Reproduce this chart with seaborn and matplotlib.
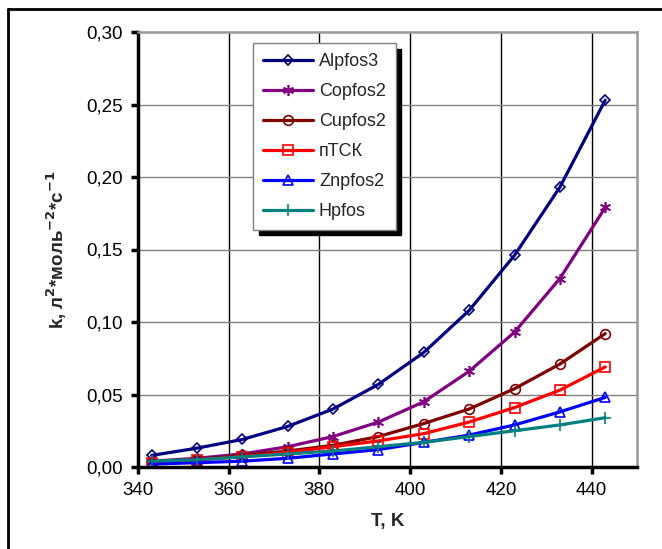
import pandas as pd
import matplotlib
matplotlib.use("Agg")
import matplotlib.pyplot as plt
from matplotlib.lines import Line2D
from matplotlib.ticker import FuncFormatter
import seaborn as sns

sns.set_style("white")
plt.rcParams['font.family'] = ['Liberation Sans', 'DejaVu Sans']

# temperatures, K
temps = [343, 353, 363, 373, 383, 393, 403, 413, 423, 433, 443]

alpfos3 = [0.008, 0.013, 0.019, 0.028, 0.040, 0.057, 0.079, 0.108, 0.146, 0.193, 0.253]
copfos2 = [0.004, 0.006, 0.009, 0.014, 0.021, 0.031, 0.045, 0.066, 0.093, 0.130, 0.179]
cupfos2 = [0.003, 0.005, 0.008, 0.011, 0.015, 0.021, 0.030, 0.040, 0.054, 0.071, 0.092]
ptsk = [0.003, 0.005, 0.007, 0.010, 0.014, 0.018, 0.023, 0.031, 0.041, 0.053, 0.069]
znpfos2 = [0.002, 0.003, 0.004, 0.006, 0.009, 0.012, 0.017, 0.022, 0.029, 0.038, 0.048]
hpfos = [0.004, 0.005, 0.007, 0.009, 0.011, 0.014, 0.017, 0.021, 0.025, 0.029, 0.034]

names = ['Alpfos3', 'Copfos2', 'Cupfos2', 'пТСК', 'Znpfos2', 'Hpfos']
series = [alpfos3, copfos2, cupfos2, ptsk, znpfos2, hpfos]
colors = ['#000080', '#800080', '#800000', '#FF0000', '#0000FF', '#008080']
markers = ['D', (6, 2, 0), 'o', 's', '^', '+']
msizes = [5, 8, 7, 7, 7, 8]

fig = plt.figure(figsize=(6.62, 5.49), dpi=100)
ax = fig.add_axes([138 / 662, 1 - 467 / 549, (637 - 138) / 662, (467 - 32) / 549])

for name, vals, c, m, ms in zip(names, series, colors, markers, msizes):
    sns.lineplot(x=temps, y=vals, ax=ax, color=c, marker=m, markersize=ms,
                 markerfacecolor='none', markeredgecolor=c, markeredgewidth=1.2,
                 linewidth=2.3, label=name)

ax.set_xlim(340, 450)
ax.set_ylim(0, 0.30)
ax.set_xticks([340, 360, 380, 400, 420, 440])
ax.set_yticks([0, 0.05, 0.10, 0.15, 0.20, 0.25, 0.30])
ax.yaxis.set_major_formatter(FuncFormatter(lambda v, p: f"{v:.2f}".replace('.', ',')))

ax.grid(False)
for xv in [360, 380, 400, 420, 440]:
    ax.axvline(xv, color='black', linewidth=1, zorder=0)
for yv in [0.05, 0.10, 0.15, 0.20, 0.25]:
    ax.axhline(yv, color='#808080', linewidth=1, zorder=0)

for s in ['left', 'bottom']:
    ax.spines[s].set_color('black')
    ax.spines[s].set_linewidth(2.5)
for s in ['top', 'right']:
    ax.spines[s].set_color('#999999')
    ax.spines[s].set_linewidth(1.8)

ax.tick_params(axis='both', direction='out', length=5, width=2.5, labelsize=13.5,
               colors='black', pad=6, left=True, bottom=True)

ax.set_xlabel('T, K', fontsize=13.5, fontweight='bold', labelpad=10)
ax.set_ylabel(r'k, л$^{\mathbf{2}}$*моль$^{\mathbf{-2}}$*с$^{\mathbf{-1}}$',
              fontsize=13.5, fontweight='bold', labelpad=12)

leg = ax.legend(loc='upper left', bbox_to_anchor=((253 - 138) / (637 - 138), 1 - (43 - 32) / (467 - 32)),
                fontsize=13, handlelength=2.8, labelspacing=0.72, borderpad=0.55,
                handletextpad=0.3, frameon=True, fancybox=False, borderaxespad=0,
                shadow={'color': 'black', 'alpha': 1, 'ox': 4, 'oy': -4})
leg.get_frame().set_edgecolor('#808080')
leg.get_frame().set_linewidth(1)
leg.get_frame().set_alpha(1)

# outer frame lines (top and left)
fig.add_artist(Line2D([8 / 662, 1], [1 - 9 / 549, 1 - 9 / 549], color='black', linewidth=2,
                      transform=fig.transFigure))
fig.add_artist(Line2D([8 / 662, 8 / 662], [0, 1 - 9 / 549], color='black', linewidth=2,
                      transform=fig.transFigure))

fig.savefig('out.png', dpi=100)
